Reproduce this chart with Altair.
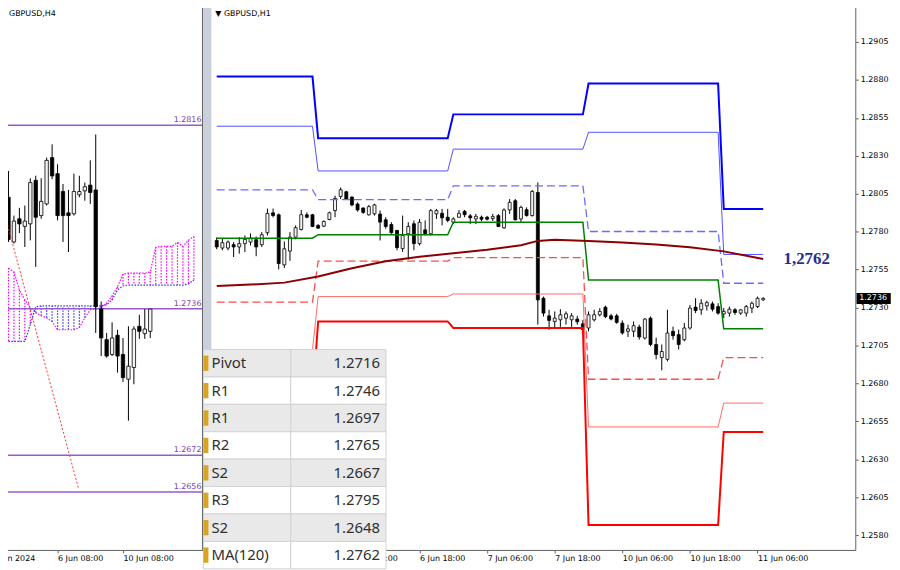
import altair as alt
import pandas as pd

FONT = "DejaVu Sans"

# ======================= DATA =======================
# ---- Left panel: GBPUSD H4 (bar 0 = 4 Jun 20:00) ----
H4_IDX = list(range(27))
H4_OPEN = [1.27846, 1.27651, 1.27752, 1.27719, 1.27730, 1.27920, 1.27766, 1.27817, 1.28019, 1.27949,
           1.27871, 1.27778, 1.27774, 1.27857, 1.27874, 1.27899, 1.27878, 1.27359, 1.27225, 1.27160,
           1.27244, 1.27160, 1.27052, 1.27103, 1.27283, 1.27251, 1.27261]
H4_HIGH = [1.27961, 1.27766, 1.27800, 1.27810, 1.27929, 1.27940, 1.27929, 1.28019, 1.28077, 1.27990,
           1.27904, 1.27878, 1.27949, 1.27940, 1.27910, 1.28007, 1.28120, 1.27391, 1.27254, 1.27300,
           1.27268, 1.27232, 1.27283, 1.27283, 1.27333, 1.27358, 1.27358]
H4_LOW = [1.27651, 1.27644, 1.27690, 1.27629, 1.27658, 1.27542, 1.27752, 1.27810, 1.27925, 1.27745,
          1.27651, 1.27607, 1.27766, 1.27846, 1.27831, 1.27817, 1.27254, 1.27153, 1.27146, 1.27153,
          1.27081, 1.27040, 1.26871, 1.27030, 1.27228, 1.27228, 1.27232]
H4_CLOSE = [1.27661, 1.27742, 1.27730, 1.27742, 1.27910, 1.27759, 1.27828, 1.28007, 1.27939, 1.27766,
            1.27766, 1.27766, 1.27871, 1.27871, 1.27892, 1.27867, 1.27369, 1.27232, 1.27153, 1.27232,
            1.27153, 1.27059, 1.27109, 1.27271, 1.27261, 1.27271, 1.27358]
H4_TICKS = [-3, 9, 21]
H4_TICK_LABELS = ["4 Jun 2024", "6 Jun 08:00", "10 Jun 08:00"]
H4_LEVELS = [1.2816, 1.2736, 1.2672, 1.2656]

KUMO_IDX = list(range(35))
SENKOU_A = [1.27537, 1.27520, 1.27442, 1.27398, 1.27364, 1.27342, 1.27329, 1.27320, 1.27303, 1.27268,
            1.27268, 1.27268, 1.27268, 1.27277, 1.27320, 1.27355, 1.27359, 1.27364, 1.27385, 1.27416,
            1.27455, 1.27511, 1.27515, 1.27515, 1.27515, 1.27515, 1.27520, 1.27628, 1.27632, 1.27632,
            1.27632, 1.27649, 1.27632, 1.27658, 1.27675]
SENKOU_B = [1.27217, 1.27217, 1.27217, 1.27217, 1.27290, 1.27368, 1.27372, 1.27372, 1.27372, 1.27372,
            1.27372, 1.27372, 1.27372, 1.27372, 1.27372, 1.27372, 1.27372, 1.27372, 1.27377, 1.27398,
            1.27442, 1.27459, 1.27463, 1.27463, 1.27463, 1.27463, 1.27463, 1.27463, 1.27463, 1.27463,
            1.27463, 1.27463, 1.27463, 1.27468, 1.27485]
TREND_IDX = [-0.74, 12.83]
TREND_VAL = [1.27775, 1.26576]

# ---- Right panel: GBPUSD H1 (t = trading hours since 5 Jun 00:00) ----
H1_T = list(range(6, 104))
H1_OPEN = [1.27742, 1.27692, 1.27692, 1.27714, 1.27699, 1.27721, 1.27731, 1.27747, 1.27714, 1.27793,
           1.27924, 1.27911, 1.27581, 1.27672, 1.27764, 1.27814, 1.27911, 1.27911, 1.27841, 1.27836,
           1.27880, 1.27939, 1.28032, 1.28063, 1.28028, 1.27982, 1.27956, 1.27911, 1.27917, 1.27916,
           1.27878, 1.27847, 1.27808, 1.27688, 1.27786, 1.27852, 1.27721, 1.27812, 1.27786, 1.27917,
           1.27921, 1.27895, 1.27862, 1.27895, 1.27934, 1.27904, 1.27884, 1.27895, 1.27895, 1.27886,
           1.27906, 1.27825, 1.27943, 1.28004, 1.27884, 1.27945, 1.27906, 1.28058, 1.27361, 1.27245,
           1.27208, 1.27219, 1.27230, 1.27219, 1.27224, 1.27193, 1.27165, 1.27219, 1.27252, 1.27302,
           1.27245, 1.27245, 1.27197, 1.27143, 1.27143, 1.27171, 1.27099, 1.27230, 1.27056, 1.26970,
           1.26958, 1.27143, 1.27121, 1.27088, 1.27165, 1.27302, 1.27285, 1.27311, 1.27324, 1.27306,
           1.27258, 1.27263, 1.27285, 1.27263, 1.27263, 1.27296, 1.27306, 1.27350]
H1_HIGH = [1.27762, 1.27756, 1.27742, 1.27731, 1.27764, 1.27775, 1.27788, 1.27768, 1.27797, 1.27952,
           1.27952, 1.27920, 1.27736, 1.27797, 1.27841, 1.27943, 1.27927, 1.27917, 1.27850, 1.27874,
           1.27932, 1.28037, 1.28091, 1.28069, 1.28032, 1.27993, 1.27960, 1.27976, 1.27984, 1.27939,
           1.27895, 1.27862, 1.27812, 1.27906, 1.27862, 1.27874, 1.27884, 1.27874, 1.27950, 1.27950,
           1.27950, 1.27950, 1.27895, 1.27943, 1.27943, 1.27917, 1.27917, 1.27906, 1.27904, 1.27917,
           1.27917, 1.27954, 1.28015, 1.28015, 1.27971, 1.27960, 1.28074, 1.28124, 1.27372, 1.27285,
           1.27274, 1.27289, 1.27274, 1.27263, 1.27245, 1.27219, 1.27274, 1.27285, 1.27296, 1.27312,
           1.27258, 1.27258, 1.27215, 1.27187, 1.27208, 1.27187, 1.27230, 1.27241, 1.27101, 1.27056,
           1.27285, 1.27174, 1.27154, 1.27198, 1.27317, 1.27361, 1.27355, 1.27345, 1.27339, 1.27328,
           1.27296, 1.27306, 1.27296, 1.27289, 1.27317, 1.27339, 1.27372, 1.27368]
H1_LOW = [1.27684, 1.27677, 1.27677, 1.27633, 1.27655, 1.27666, 1.27709, 1.27638, 1.27699, 1.27775,
          1.27895, 1.27551, 1.27561, 1.27608, 1.27749, 1.27808, 1.27888, 1.27830, 1.27819, 1.27830,
          1.27875, 1.27895, 1.28015, 1.28010, 1.27967, 1.27932, 1.27917, 1.27906, 1.27906, 1.27742,
          1.27819, 1.27786, 1.27677, 1.27666, 1.27616, 1.27677, 1.27709, 1.27775, 1.27775, 1.27884,
          1.27841, 1.27862, 1.27850, 1.27891, 1.27895, 1.27850, 1.27850, 1.27869, 1.27874, 1.27870,
          1.27830, 1.27819, 1.27917, 1.27874, 1.27862, 1.27899, 1.27899, 1.27187, 1.27240, 1.27154,
          1.27159, 1.27172, 1.27187, 1.27172, 1.27187, 1.27143, 1.27143, 1.27208, 1.27240, 1.27230,
          1.27215, 1.27193, 1.27121, 1.27106, 1.27106, 1.27088, 1.27088, 1.27045, 1.26958, 1.26886,
          1.26945, 1.27088, 1.27023, 1.27077, 1.27154, 1.27263, 1.27252, 1.27280, 1.27274, 1.27252,
          1.27230, 1.27240, 1.27252, 1.27252, 1.27240, 1.27263, 1.27296, 1.27345]
H1_CLOSE = [1.27699, 1.27727, 1.27731, 1.27699, 1.27721, 1.27749, 1.27757, 1.27699, 1.27780, 1.27920,
            1.27906, 1.27590, 1.27687, 1.27764, 1.27826, 1.27912, 1.27895, 1.27834, 1.27823, 1.27867,
            1.27924, 1.28019, 1.28076, 1.28015, 1.27976, 1.27943, 1.27927, 1.27965, 1.27976, 1.27863,
            1.27834, 1.27793, 1.27695, 1.27775, 1.27834, 1.27721, 1.27862, 1.27786, 1.27939, 1.27939,
            1.27891, 1.27874, 1.27884, 1.27921, 1.27912, 1.27891, 1.27901, 1.27882, 1.27882, 1.27899,
            1.27834, 1.27943, 1.27993, 1.27878, 1.27960, 1.27906, 1.28065, 1.27350, 1.27263, 1.27215,
            1.27230, 1.27252, 1.27258, 1.27245, 1.27206, 1.27154, 1.27252, 1.27252, 1.27274, 1.27240,
            1.27224, 1.27202, 1.27132, 1.27159, 1.27180, 1.27106, 1.27224, 1.27056, 1.26990, 1.27010,
            1.27132, 1.27114, 1.27056, 1.27165, 1.27296, 1.27280, 1.27328, 1.27332, 1.27289, 1.27263,
            1.27274, 1.27289, 1.27267, 1.27285, 1.27306, 1.27328, 1.27361, 1.27360]

DAY_START = [6, 24, 48, 72, 96]
DAY_END = [23, 47, 71, 95, 103]
PIV_R3 = [1.28822, 1.28416, 1.28573, 1.28776, 1.2795]
PIV_R2 = [1.28495, 1.28200, 1.28344, 1.28455, 1.2765]
PIV_R1 = [1.28076, 1.28011, 1.28102, 1.27801, 1.2746]
PIV_P = [1.27757, 1.27780, 1.27862, 1.27481, 1.2716]
PIV_S1 = [1.27335, 1.27606, 1.27629, 1.26827, 1.2697]
PIV_S2 = [1.27020, 1.27372, 1.27389, 1.26513, 1.2667]
PIV_S3 = [1.26690, 1.27208, 1.27165, 1.25866, 1.2648]

MA_T = [6, 12, 18, 24, 30, 36, 42, 48, 54, 60, 63, 66, 72, 78, 84, 90, 96, 103]
MA_V = [1.27442, 1.27451, 1.27464, 1.27504, 1.27559, 1.27605, 1.27635, 1.27657, 1.27680, 1.27710,
        1.27739, 1.27746, 1.27739, 1.27729, 1.27716, 1.27697, 1.27670, 1.27620]
MA_LABEL = "1,2762"

H1_TICKS = [30, 42, 54, 66, 78, 90, 102]
H1_TICK_LABELS = ["6 Jun 06:00", "6 Jun 18:00", "7 Jun 06:00", "7 Jun 18:00", "10 Jun 06:00",
                  "10 Jun 18:00", "11 Jun 06:00"]
PRICE_TICKS = [1.2580, 1.2605, 1.2630, 1.2655, 1.2680, 1.2705, 1.2730, 1.2755, 1.2780,
               1.2805, 1.2830, 1.2855, 1.2880, 1.2905, 1.2930]
LAST_PRICE = 1.2736

TABLE_LABELS = ["Pivot", "R1", "R1", "R2", "S2", "R3", "S2", "MA(120)"]
TABLE_VALUES = ["1.2716", "1.2746", "1.2697", "1.2765", "1.2667", "1.2795", "1.2648", "1.2762"]

# ======================= LAYOUT =======================
W, H = 862, 552
L_EDGE = 204          # right border of the H4 panel
SEP_X2 = 213          # end of the window separator
SX_L = alt.Scale(domain=[-3.0, 36.304], range=[-13.0, 213.0], nice=False, zero=False)
SY_L = alt.Scale(domain=[1.26307, 1.28697], range=[H, 0], nice=False, zero=False)
SX_R = alt.Scale(domain=[5.933, 118.47], range=[213.0, 862.0], nice=False, zero=False)
SY_R = alt.Scale(domain=[1.25702, 1.29312], range=[H, 0], nice=False, zero=False)
SX_T = alt.Scale(domain=[0, 1], range=[205.0, 389.0], nice=False, zero=False)
SY_T = alt.Scale(domain=[0, 8], range=[350.0, 571.0], nice=False, zero=False)
COL_SPLIT = 88 / 184
ICON_W = 5 / 184

AXIS_COMMON = dict(title=None, grid=False, labelFont=FONT, labelFontSize=8, labelColor="#000000",
                   tickColor="#606060", domainColor="#606060", labelOverlap=False, labelFlush=False)


def label_expr(values, labels):
    arr = "[" + ",".join("'" + s + "'" for s in labels) + "]"
    step = values[1] - values[0]
    return f"{arr}[round((datum.value - ({values[0]})) / {step})]"


AX_XL = alt.Axis(orient="bottom", values=H4_TICKS, labelExpr=label_expr(H4_TICKS, H4_TICK_LABELS),
                 labelAlign="left", tickSize=3, labelPadding=2, **AXIS_COMMON)
AX_XR = alt.Axis(orient="bottom", values=H1_TICKS, labelExpr=label_expr(H1_TICKS, H1_TICK_LABELS),
                 labelAlign="left", tickSize=3, labelPadding=2, **AXIS_COMMON)
AX_YR = alt.Axis(orient="right", values=PRICE_TICKS, format=".4f", tickSize=3, labelPadding=2,
                 **AXIS_COMMON)


def xl(f):
    return alt.X(f"{f}:Q", scale=SX_L, axis=AX_XL)


def yl(f):
    return alt.Y(f"{f}:Q", scale=SY_L, axis=None)


def xr(f):
    return alt.X(f"{f}:Q", scale=SX_R, axis=AX_XR)


def yr(f):
    return alt.Y(f"{f}:Q", scale=SY_R, axis=AX_YR)


def candles(df, xfn, yfn, body_w):
    base = alt.Chart(df)
    wick = base.mark_rule(color="#000000", strokeWidth=1).encode(x=xfn("t"), y=yfn("low"), y2="high:Q")
    body = base.mark_bar(size=body_w, stroke="#000000", strokeWidth=0.8).encode(
        x=xfn("t"), y=yfn("open"), y2="close:Q",
        fill=alt.condition("datum.close >= datum.open", alt.value("#f4f4f4"), alt.value("#000000")))
    return [wick, body]


# ======================= LEFT PANEL (H4) =======================
h4 = pd.DataFrame({"t": H4_IDX, "open": H4_OPEN, "high": H4_HIGH, "low": H4_LOW, "close": H4_CLOSE})
kumo = pd.DataFrame({"t": KUMO_IDX, "a": SENKOU_A, "b": SENKOU_B})
trend = pd.DataFrame({"t": TREND_IDX, "v": TREND_VAL})
levels = pd.DataFrame({"level": H4_LEVELS})

hatch = alt.Chart(kumo).mark_rule(strokeWidth=1.2, strokeDash=[1.5, 1.5]).encode(
    x=xl("t"), y=yl("a"), y2="b:Q",
    color=alt.condition("datum.a >= datum.b", alt.value("#ff00ff"), alt.value("#2a2aff")))
line_a = alt.Chart(kumo).mark_line(color="#ff00ff", strokeWidth=1.2, strokeDash=[1.5, 1.5]).encode(x=xl("t"), y=yl("a"))
line_b = alt.Chart(kumo).mark_line(color="#2a2aff", strokeWidth=1.2, strokeDash=[1.5, 1.5]).encode(x=xl("t"), y=yl("b"))
trend_line = alt.Chart(trend).mark_line(color="#ff3030", strokeWidth=1, strokeDash=[2, 2]).encode(x=xl("t"), y=yl("v"))
lvl_lines = alt.Chart(levels).mark_rule(color="#9b59d0", strokeWidth=1.5).encode(
    y=yl("level"), x=alt.value(0), x2=alt.value(L_EDGE))
lvl_text = alt.Chart(levels).mark_text(align="right", baseline="bottom", dy=-1, color="#7b3fb0",
                                       font=FONT, fontSize=8).encode(
    y=yl("level"), x=alt.value(L_EDGE - 1), text=alt.Text("level:Q", format=".4f"))

left = alt.layer(hatch, line_a, line_b, lvl_lines, lvl_text, *candles(h4, xl, yl, 3.4), trend_line)

# ======================= RIGHT PANEL (H1) =======================
h1 = pd.DataFrame({"t": H1_T, "open": H1_OPEN, "high": H1_HIGH, "low": H1_LOW, "close": H1_CLOSE})

pivot_sets = [
    ("R2", PIV_R2, "#5050ff", 1.0, None),
    ("R1", PIV_R1, "#6a6aff", 1.3, [8, 4]),
    ("R3", PIV_R3, "#0000ff", 2.0, None),
    ("S2", PIV_S2, "#ff6a6a", 1.0, None),
    ("S1", PIV_S1, "#ff4a4a", 1.3, [8, 4]),
    ("S3", PIV_S3, "#ff0000", 2.0, None),
    ("P", PIV_P, "#008000", 1.5, None),
]
pivot_layers = []
for name, vals, color, w, dash in pivot_sets:
    rows = []
    for s, e, v in zip(DAY_START, DAY_END, vals):
        rows.append({"t": s, "v": v})
        rows.append({"t": e, "v": v})
    kw = dict(color=color, strokeWidth=w)
    if dash:
        kw["strokeDash"] = dash
    pivot_layers.append(alt.Chart(pd.DataFrame(rows)).mark_line(**kw).encode(x=xr("t"), y=yr("v")))

ma = pd.DataFrame({"t": MA_T, "v": MA_V})
ma_line = alt.Chart(ma).mark_line(color="#8b0000", strokeWidth=2).encode(x=xr("t"), y=yr("v"))

ma_last = pd.DataFrame({"v": [MA_V[-1]], "label": [MA_LABEL]})
ma_text = alt.Chart(ma_last).mark_text(font="Liberation Serif", fontSize=17, fontWeight="bold",
                                       color="#1f2f8f", align="center", baseline="middle").encode(
    x=alt.value(813), y=yr("v"), text="label:N")

last = pd.DataFrame({"v": [LAST_PRICE]})
box_path = "M-1,-0.32L1,-0.32L1,0.32L-1,0.32Z"
price_box = alt.Chart(last).mark_point(shape=box_path, size=1190, filled=True, color="#000000", opacity=1).encode(
    x=alt.value(880.5), y=yr("v"))
price_text = alt.Chart(last).mark_text(font=FONT, fontSize=8, color="#ffffff", align="left",
                                       baseline="middle").encode(
    x=alt.value(866), y=yr("v"), text=alt.Text("v:Q", format=".4f"))

right = alt.layer(*candles(h1, xr, yr, 3), *pivot_layers, ma_line, ma_text, price_box, price_text)

# ======================= DECORATION =======================
one = pd.DataFrame({"k": [0]})
sep = alt.Chart(one).mark_rect(color="#c9d0da").encode(
    x=alt.value(L_EDGE + 0.5), x2=alt.value(SEP_X2), y=alt.value(0), y2=alt.value(H))
sep_line = alt.Chart(one).mark_rule(color="#606060", strokeWidth=1).encode(
    x=alt.value(L_EDGE), y=alt.value(0), y2=alt.value(H))

titles = pd.DataFrame({"label": ["GBPUSD,H4", "\u25bc GBPUSD,H1"]})
title_l = alt.Chart(titles.iloc[[0]]).mark_text(font=FONT, fontSize=8, align="left", baseline="middle",
                                                color="#000000").encode(x=alt.value(9), y=alt.value(12), text="label:N")
title_r = alt.Chart(titles.iloc[[1]]).mark_text(font=FONT, fontSize=8, align="left", baseline="middle",
                                                color="#000000").encode(x=alt.value(217), y=alt.value(12), text="label:N")

# ======================= TABLE =======================
n = len(TABLE_LABELS)
cells = []
for i, (lab, val) in enumerate(zip(TABLE_LABELS, TABLE_VALUES)):
    fill = "#e9e9e9" if i % 2 == 0 else "#ffffff"
    cells.append({"r0": i, "r1": i + 1, "c0": 0.0, "c1": COL_SPLIT, "fill": fill})
    cells.append({"r0": i, "r1": i + 1, "c0": COL_SPLIT, "c1": 1.0, "fill": fill})
cells = pd.DataFrame(cells)
trows = pd.DataFrame({"r": [i + 0.5 for i in range(n)], "r0": [i + 0.22 for i in range(n)],
                      "r1": [i + 0.78 for i in range(n)], "label": TABLE_LABELS, "value": TABLE_VALUES,
                      "c0": [0.0] * n, "ci": [ICON_W] * n, "c1": [1.0] * n})

xt = lambda f: alt.X(f"{f}:Q", scale=SX_T, axis=None)
yt = lambda f: alt.Y(f"{f}:Q", scale=SY_T, axis=None)

t_cells = alt.Chart(cells).mark_rect(stroke="#d2d2d2", strokeWidth=1).encode(
    x=xt("c0"), x2="c1:Q", y=yt("r0"), y2="r1:Q", fill=alt.Fill("fill:N", scale=None))
t_icons = alt.Chart(trows).mark_rect(color="#d9a422").encode(x=xt("c0"), x2="ci:Q", y=yt("r0"), y2="r1:Q")
t_labels = alt.Chart(trows).mark_text(font="Noto Sans", fontSize=15, color="#303030", align="left",
                                      baseline="middle", dx=8).encode(x=xt("c0"), y=yt("r"), text="label:N")
t_values = alt.Chart(trows).mark_text(font="Noto Sans", fontSize=15, color="#303030", align="right",
                                      baseline="middle", dx=-6).encode(x=xt("c1"), y=yt("r"), text="value:N")
table = alt.layer(t_cells, t_icons, t_labels, t_values)

chart = alt.layer(left, right, sep, sep_line, title_l, title_r, table).resolve_scale(
    x="independent", y="independent"
).properties(
    width=W, height=H,
    autosize=alt.AutoSizeParams(type="none"),
    padding={"left": -8, "top": -8, "right": 37, "bottom": 18},
    background="#ffffff",
).configure_view(stroke=None)

chart.save("out.html", embed_options={"renderer": "svg", "actions": False})
